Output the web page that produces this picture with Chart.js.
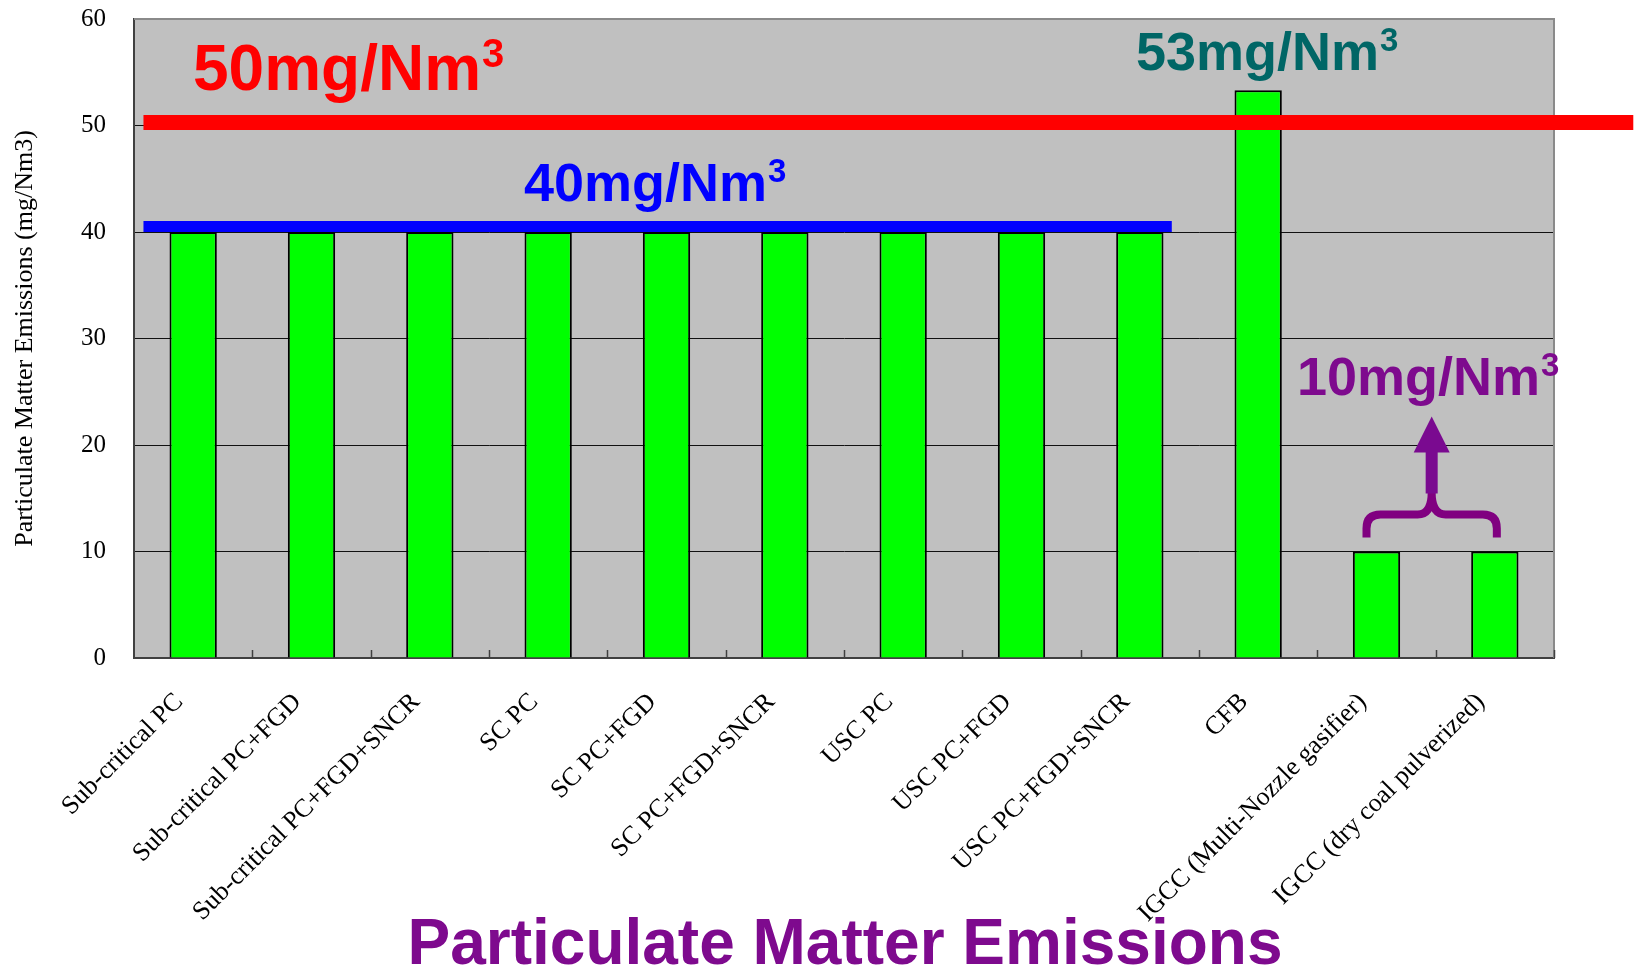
<!DOCTYPE html>
<html><head><meta charset="utf-8">
<script src="https://cdn.jsdelivr.net/npm/chart.js@4"></script>
<style>html,body{margin:0;padding:0;background:#fff;overflow:hidden}#wrap{width:1635px;height:971px;position:relative}</style>
</head><body><div id="wrap"><canvas id="c" width="1635" height="971"></canvas></div>
<script>
const categories = ["Sub-critical PC","Sub-critical PC+FGD","Sub-critical PC+FGD+SNCR","SC PC","SC PC+FGD","SC PC+FGD+SNCR","USC PC","USC PC+FGD","USC PC+FGD+SNCR","CFB","IGCC (Multi-Nozzle gasifier)","IGCC (dry coal pulverized)"];
const emissions = [40,40,40,40,40,40,40,40,40,53.3,10,10];
const yTicks = [0,10,20,30,40,50,60];
const limitNational = 50;
const limitLocal = 40;
const limitIGCC = 10;
const labelNational = "50mg/Nm";
const labelLocal = "40mg/Nm";
const labelCFB = "53mg/Nm";
const labelIGCC = "10mg/Nm";
const chartTitle = "Particulate Matter Emissions";
const yTitle = "Particulate Matter Emissions (mg/Nm3)";

const PURPLE = '#7E0A8E';

function supText(ctx, txt, x, y, size, color){
  ctx.save();
  ctx.fillStyle = color;
  ctx.textBaseline = 'alphabetic';
  ctx.textAlign = 'left';
  ctx.font = 'bold ' + size + 'px "Liberation Sans", Arial, sans-serif';
  ctx.fillText(txt, x, y);
  const w = ctx.measureText(txt).width;
  ctx.font = 'bold ' + Math.round(size*0.62) + 'px "Liberation Sans", Arial, sans-serif';
  ctx.fillText('3', x + w + 1, y - size*0.36);
  ctx.restore();
}

const decor = {
  id: 'decor',
  beforeDraw(chart){
    const {ctx, chartArea:a} = chart;
    ctx.save();
    ctx.fillStyle = '#C0C0C0';
    ctx.fillRect(a.left, a.top, a.right - a.left, a.bottom - a.top);
    ctx.restore();
  },
  afterDatasetsDraw(chart){
    const {ctx, chartArea:a, scales:{x, y}} = chart;
    ctx.save();
    ctx.strokeStyle = '#8a8a8a'; ctx.lineWidth = 2;
    ctx.beginPath(); ctx.moveTo(a.left, a.top); ctx.lineTo(a.right, a.top); ctx.lineTo(a.right, a.bottom); ctx.stroke();
    ctx.strokeStyle = '#404040'; ctx.lineWidth = 1.5;
    for (let i = 0; i < categories.length; i++) {
      const px = Math.round(x.getPixelForValue(i + 0.5)) + 0.5;
      ctx.beginPath(); ctx.moveTo(px, a.bottom); ctx.lineTo(px, a.bottom - 8); ctx.stroke();
    }
    const redW = 15;
    const redY = y.getPixelForValue(limitNational) - 3;
    ctx.fillStyle = '#FF0000';
    const rx0 = x.getPixelForValue(-0.42), rx1 = x.getPixelForValue(12.17);
    ctx.fillRect(rx0, redY - redW/2, rx1 - rx0, redW);
    const bW = 11;
    const bY = y.getPixelForValue(limitLocal) - bW/2;
    ctx.fillStyle = '#0000FF';
    const bx0 = x.getPixelForValue(-0.42), bx1 = x.getPixelForValue(8.27);
    ctx.fillRect(bx0, bY - bW/2, bx1 - bx0, bW);
    const bl = x.getPixelForValue(10) - 10, br = x.getPixelForValue(11) + 2;
    const bc = (bl + br) / 2;
    const yTip = y.getPixelForValue(limitIGCC) - 14;
    const yH = yTip - 23, yC = yH - 22, r = 14;
    ctx.strokeStyle = '#800080'; ctx.lineWidth = 8; ctx.lineJoin = 'round';
    ctx.beginPath();
    ctx.moveTo(bl, yTip);
    ctx.lineTo(bl, yH + r);
    ctx.quadraticCurveTo(bl, yH, bl + r, yH);
    ctx.lineTo(bc - r, yH);
    ctx.quadraticCurveTo(bc, yH, bc, yC);
    ctx.quadraticCurveTo(bc, yH, bc + r, yH);
    ctx.lineTo(br - r, yH);
    ctx.quadraticCurveTo(br, yH, br, yH + r);
    ctx.lineTo(br, yTip);
    ctx.stroke();
    ctx.fillStyle = '#7A0A90';
    ctx.fillRect(bc - 6, yC - 41, 12, 42);
    ctx.beginPath();
    ctx.moveTo(bc - 18, yC - 40); ctx.lineTo(bc + 18, yC - 40); ctx.lineTo(bc, yC - 76); ctx.closePath(); ctx.fill();
    ctx.restore();

    supText(ctx, labelNational, 193, 90, 64, '#FF0000');
    supText(ctx, labelLocal, 524, 201, 54, '#0000FF');
    supText(ctx, labelCFB, 1136, 70, 54, '#006666');
    supText(ctx, labelIGCC, 1297, 395, 54, PURPLE);

    ctx.save();
    ctx.fillStyle = PURPLE;
    ctx.font = 'bold 64px "Liberation Sans", Arial, sans-serif';
    ctx.textAlign = 'center'; ctx.textBaseline = 'alphabetic';
    ctx.fillText(chartTitle, 845, 964);
    ctx.restore();
  }
};

new Chart(document.getElementById('c'), {
  type: 'bar',
  data: {
    labels: categories,
    datasets: [{
      data: emissions,
      backgroundColor: '#00FF00',
      borderColor: '#000000',
      borderWidth: 2,
      categoryPercentage: 1.0,
      barPercentage: 0.4
    }]
  },
  options: {
    responsive: false,
    animation: false,
    devicePixelRatio: 1,
    layout: { padding: { left: 0, top: 19, right: 81, bottom: 0 } },
    plugins: { legend: { display: false }, title: { display: false }, tooltip: { enabled: false } },
    scales: {
      x: {
        afterFit(s){ s.height = 313; s.paddingLeft = 0; s.paddingRight = 0; },
        grid: { display: false, offset: true },
        border: { display: true, color: '#404040', width: 2 },
        ticks: {
          autoSkip: false, maxRotation: 45, minRotation: 45, padding: 21, labelOffset: -14,
          color: '#000', font: { family: '"Liberation Serif", "Times New Roman", serif', size: 26 }
        }
      },
      y: {
        min: 0, max: 60,
        afterFit(s){ s.width = 134; s.paddingTop = 0; s.paddingBottom = 0; },
        afterBuildTicks(s){ s.ticks = yTicks.map(v => ({ value: v })); },
        grid: {
          drawTicks: false,
          color: c => (c.tick && c.tick.value === 60) ? '#8a8a8a' : '#111',
          lineWidth: 1
        },
        border: { display: true, color: '#404040', width: 2 },
        ticks: {
          padding: 28, color: '#000',
          font: { family: '"Liberation Serif", "Times New Roman", serif', size: 25 }
        },
        title: {
          display: true, text: yTitle, color: '#000', padding: { top: 10, bottom: 0 },
          font: { family: '"Liberation Serif", "Times New Roman", serif', size: 26, weight: 'normal' }
        }
      }
    }
  },
  plugins: [decor]
});
</script></body></html>
